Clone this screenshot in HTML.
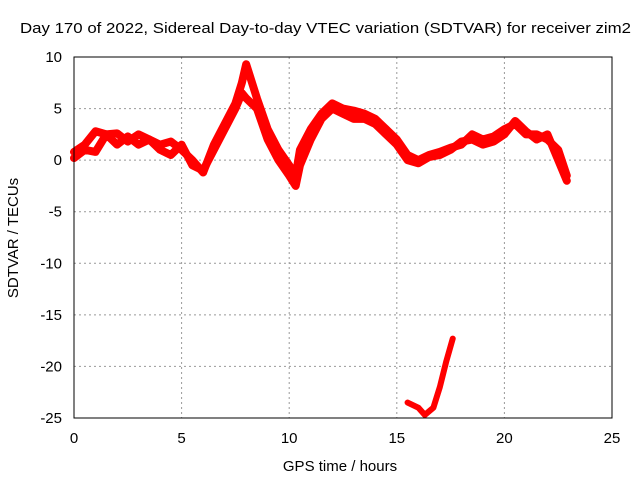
<!DOCTYPE html>
<html><head><meta charset="utf-8"><style>
body{margin:0;background:#fff;}
svg text{font-family:"Liberation Sans",sans-serif;font-size:15px;fill:#000;}
</style></head><body>
<svg id="chart" width="640" height="480" viewBox="0 0 640 480">
<rect width="640" height="480" fill="#fff"/>
<text x="20" y="33" textLength="611" lengthAdjust="spacingAndGlyphs">Day 170 of 2022, Sidereal Day-to-day VTEC variation (SDTVAR) for receiver zim2</text>
<g id="grid"></g>
<g id="marks"></g>
<rect x="74" y="57" width="538" height="361" fill="none" stroke="#000"/>
<text x="340" y="471" text-anchor="middle">GPS time / hours</text>
<text transform="translate(18,238) rotate(-90)" text-anchor="middle">SDTVAR / TECUs</text>
</svg>
<script>
const xTicks=[0,5,10,15,20,25];
const yTicks=[10,5,0,-5,-10,-15,-20,-25];
const tA=[0,0.5,1,1.5,2,2.5,3,3.5,4,4.5,5,5.5,6,6.5,7,7.5,7.8,8,8.5,9,9.5,10,10.3,10.5,11,11.5,12,12.5,13,13.5,14,14.5,15,15.5,16,16.5,17,17.5,18,18.5,19,19.5,20,20.5,21,21.5,22,22.5,22.9];
const vA=[0.8,1.5,2.8,2.5,2.6,1.8,2.5,2,1.5,1.8,1,0,-1.2,1.5,3.5,5.5,7.5,9.3,6,3,1,-0.5,-1.5,1,3,4.5,5.5,5,4.8,4.5,4,3,2,0.5,0,0.5,0.8,1.2,1.5,2.5,2,2.3,3,3.5,2.5,2.5,2,1,-1.5];
const vB=[0.2,1,0.8,2.5,1.5,2.3,1.5,2,1,0.5,1.5,-0.5,-1,1,3,5,6.5,6,5,2,0,-1.5,-2.5,-0.5,2,4,5,4.5,4,4,3.5,2.5,1.5,0,-0.3,0.3,0.5,1,1.8,2,1.5,1.8,2.5,3.8,2.8,2,2.5,0,-2];
const tC=[15.5,16,16.3,16.7,17,17.3,17.6];
const vC=[-23.5,-24,-24.7,-24,-22,-19.5,-17.3];
const X=v=>74+v*538/25, Y=v=>57+(10-v)*361/35;
const NS="http://www.w3.org/2000/svg";
const grid=document.getElementById('grid'), marks=document.getElementById('marks');
function mk(tag,attrs,parent){const e=document.createElementNS(NS,tag);for(const k in attrs)e.setAttribute(k,attrs[k]);parent.appendChild(e);return e;}
xTicks.forEach(t=>{
 const l=mk('line',{x1:X(t),x2:X(t),y1:57,y2:418,stroke:'#999','stroke-dasharray':'2,3'},grid);
 
 
 const tx=mk('text',{x:X(t),y:443,'text-anchor':'middle'},grid);tx.textContent=t;
 
 
});
yTicks.forEach(t=>{
 const l=mk('line',{x1:74,x2:612,y1:Y(t),y2:Y(t),stroke:'#999','stroke-dasharray':'2,3'},grid);
 
 
 const tx=mk('text',{x:62,y:Y(t)+5,'text-anchor':'end'},grid);tx.textContent=t;
 
 
});
function series(ts,vs,name,w){
 const p=mk('polyline',{points:ts.map((t,i)=>X(t)+','+Y(vs[i])).join(' '),fill:'none',stroke:'#f00','stroke-width':w,'stroke-linejoin':'round','stroke-linecap':'round'},marks);
 
 
}
series(tA,vA,'series-a',8);
series(tA,vB,'series-b',8);
series(tC,vC,'series-c',6);
</script>
</body></html>
